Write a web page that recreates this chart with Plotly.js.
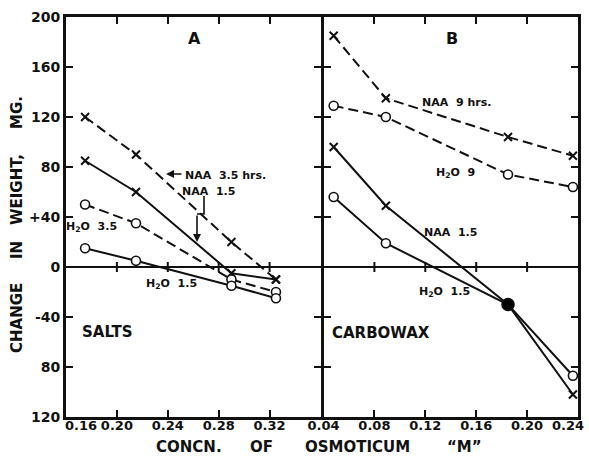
<!DOCTYPE html>
<html><head><meta charset="utf-8">
<script src="https://cdn.plot.ly/plotly-3.0.1.min.js"></script>
<style>html,body{margin:0;padding:0;background:#fff}#chart{width:589px;height:456px}</style>
</head><body><div id="chart"></div>
<script>
// Panel A (salts)
const xA = [0.175, 0.215, 0.29, 0.325];
const naa35A = [120, 90, 20, -10];
const naa15A = [85, 60, -5, -10];
const h2o35A = [50, 35, -10, -20];
const h2o15A = [15, 5, -15, -25];
// Panel B (carbowax)
const xB = [0.048, 0.089, 0.185, 0.236];
const naa9B = [185, 135, 104, 89];
const h2o9B = [129, 120, 74, 64];
const naa15B = [96, 49, -30, -102];
const h2o15B = [56, 19, -30, -87];
// Ticks
const xTicksA = [0.16, 0.20, 0.24, 0.28, 0.32];
const xTicksB = [0.04, 0.08, 0.12, 0.16, 0.20, 0.24];
const yTicks = [-120, -80, -40, 0, 40, 80, 120, 160, 200];
const yTickText = ['120', '80', '-40', '0', '+40', '80', '120', '160', '200'];

const FONT = 'DejaVu Sans';
const K = '#111';
const DASH = '10px,5px';

function xm(sz){ return {symbol:'x-thin-open', size:sz||8, opacity:1, color:K, line:{color:K, width:2}}; }
function om(){ return {symbol:'circle', size:9, opacity:1, color:'white', line:{color:K, width:1.6}}; }

const traces = [
  {x:xA, y:naa35A, xaxis:'x', yaxis:'y', mode:'lines+markers', line:{color:K, width:2, dash:DASH}, marker:xm()},
  {x:xA, y:naa15A, xaxis:'x', yaxis:'y', mode:'lines+markers', line:{color:K, width:2}, marker:xm()},
  {x:xA, y:h2o35A, xaxis:'x', yaxis:'y', mode:'lines+markers', line:{color:K, width:2, dash:DASH}, marker:om()},
  {x:xA, y:h2o15A, xaxis:'x', yaxis:'y', mode:'lines+markers', line:{color:K, width:2}, marker:om()},
  {x:xB, y:naa9B, xaxis:'x2', yaxis:'y2', mode:'lines+markers', line:{color:K, width:2, dash:DASH}, marker:xm()},
  {x:xB, y:h2o9B, xaxis:'x2', yaxis:'y2', mode:'lines+markers', line:{color:K, width:2, dash:DASH}, marker:om()},
  {x:xB, y:naa15B, xaxis:'x2', yaxis:'y2', mode:'lines+markers', line:{color:K, width:2}, marker:xm([8,8,0,8])},
  {x:xB, y:h2o15B, xaxis:'x2', yaxis:'y2', mode:'lines+markers', line:{color:K, width:2},
   marker:{symbol:'circle', size:[9,9,12,9], opacity:1, color:['white','white','black','white'], line:{color:K, width:1.6}}}
];
traces.forEach(t => { t.showlegend = false; t.cliponaxis = false; t.hoverinfo = 'skip'; });

const L = 66, T = 17, W = 512, H = 400;
function px(x){ return (x - L) / W; }
function py(y){ return (T + H - y) / H; }
const half = 1.5 / W;

const tf = {family:FONT, size:13, color:K, weight:'bold'};
const axCommon = {showgrid:false, zeroline:false, showline:true, linecolor:K, linewidth:3,
  ticks:'inside', ticklen:7, tickwidth:2, tickcolor:K, mirror:'ticks', tickfont:tf};

function txt(text, x, y, size, extra){
  return Object.assign({xref:'paper', yref:'paper', x:px(x), y:py(y), text:text, showarrow:false,
    xanchor:'center', yanchor:'middle', font:{family:FONT, size:size, color:K, weight:'bold'}}, extra||{});
}

const firstA = xTicksA[0];
const lastB = xTicksB[xTicksB.length - 1];
const annotations = [
  txt('A', 194, 38, 16),
  txt('B', 452, 38, 16),
  txt('SALTS', 107, 332, 15),
  txt('CARBOWAX', 381, 333, 15),
  txt('NAA  3.5 hrs.', 183, 175, 11, {xanchor:'left'}),
  txt('NAA  1.5', 208, 191, 11),
  txt('H<sub>2</sub>O  3.5', 91, 227, 11),
  txt('H<sub>2</sub>O  1.5', 171, 284, 11),
  txt('NAA  9 hrs.', 456, 103, 11),
  txt('H<sub>2</sub>O  9', 455, 173, 11),
  txt('NAA  1.5', 450, 232, 11),
  txt('H<sub>2</sub>O  1.5', 444, 292, 11),
  // edge tick labels, nudged like in the original
  txt(firstA.toFixed(2), 63, 425, 13, {xanchor:'left'}),
  txt(lastB.toFixed(2), 586, 425, 13, {xanchor:'right'}),
  // y title words
  txt('MG.', 17, 113, 15, {textangle:-90}),
  txt('WEIGHT,', 17, 190, 15, {textangle:-90}),
  txt('IN', 17, 250, 15, {textangle:-90}),
  txt('CHANGE', 17, 318, 15, {textangle:-90}),
  // x title words
  txt('CONCN.', 189, 447, 15),
  txt('OF', 261, 447, 15),
  txt('OSMOTICUM', 357, 447, 15),
  txt('\u201CM\u201D', 464, 447, 15),
  // arrows
  {xref:'paper', yref:'paper', x:px(166), y:py(174), ax:17, ay:0, text:'', showarrow:true,
   arrowhead:2, arrowsize:1, arrowwidth:1.6, arrowcolor:K, standoff:0, startstandoff:0},
  {xref:'paper', yref:'paper', x:px(197), y:py(242), ax:0, ay:-28, text:'', showarrow:true,
   arrowhead:2, arrowsize:1, arrowwidth:1.6, arrowcolor:K, standoff:0, startstandoff:0}
];

// small tick marks crossing the zero line, taken from the tick arrays
function zeroTicks(vals, xr, yr){
  return vals.map(v => ({type:'line', xref:xr, yref:yr, ysizemode:'pixel', yanchor:0,
    x0:v, x1:v, y0:-5, y1:5, line:{color:K, width:2}}));
}

const shapes = [
  {type:'path', xref:'paper', yref:'paper',
   path:'M '+px(204)+' '+py(196)+' L '+px(204)+' '+py(214)+' L '+px(197)+' '+py(214),
   line:{color:K, width:1.6}}
].concat(zeroTicks(xTicksA.slice(1), 'x', 'y'), zeroTicks(xTicksB.slice(1, -1), 'x2', 'y2'));

const layout = {
  width:589, height:456,
  margin:{l:L, r:589-L-W, t:T, b:456-T-H, pad:0},
  paper_bgcolor:'white', plot_bgcolor:'white',
  font:{family:FONT, color:K},
  xaxis:Object.assign({}, axCommon, {domain:[0,0.5-half], range:[0.16,0.36], anchor:'y',
    tickvals:xTicksA, ticktext:xTicksA.map(v=>v===firstA ? '' : v.toFixed(2)), ticklabelstandoff:-6}),
  xaxis2:Object.assign({}, axCommon, {domain:[0.5+half,1], range:[0.04,0.24], anchor:'y2',
    tickvals:xTicksB, ticktext:xTicksB.map(v=>v===lastB ? '' : v.toFixed(2)), ticklabelstandoff:-6}),
  yaxis:Object.assign({}, axCommon, {range:[-120,200], anchor:'x', tickvals:yTicks, ticktext:yTickText,
    tickfont:{family:FONT, size:14, color:K, weight:'bold'},
    zeroline:true, zerolinecolor:K, zerolinewidth:2.5}),
  yaxis2:Object.assign({}, axCommon, {range:[-120,200], anchor:'x2', tickvals:yTicks, showticklabels:false,
    zeroline:true, zerolinecolor:K, zerolinewidth:2.5}),
  annotations:annotations,
  shapes:shapes
};

Plotly.newPlot('chart', traces, layout, {displayModeBar:false, staticPlot:true});
</script>
</body></html>
